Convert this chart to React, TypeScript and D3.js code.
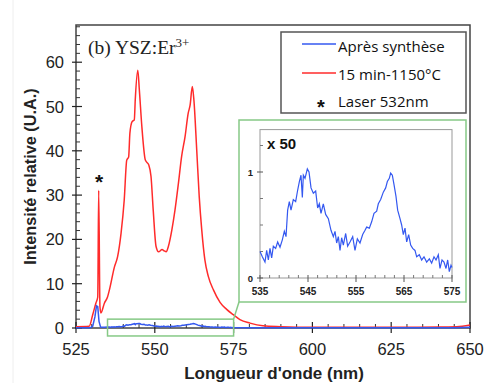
import React from "react";
import * as d3 from "d3";

// ---------- data ----------
const redWl = [525, 529.2, 530.3, 531.3, 531.9, 532.2, 532.6, 532.9, 534.0, 535.0, 535.6, 537.2, 538.2, 539.3, 540.3, 541.1, 541.7, 542.1, 542.8, 543.5, 543.8, 544.6, 545.1, 545.9, 547.0, 548.1, 548.8, 549.5, 550.4, 551.2, 552.3, 553.0, 553.6, 554.3, 555.4, 556.4, 557.5, 558.5, 559.6, 560.6, 561.2, 561.9, 562.4, 563.3, 564.1, 564.9, 565.9, 567.0, 568.6, 570.7, 572.8, 574.9, 577, 580.2, 584.3, 590, 600, 620, 640, 645.8, 650];
const redVal = [0.3, 0.4, 3.0, 5.6, 7, 31.1, 4.8, 3.4, 5.6, 7, 8.6, 13.8, 16.1, 21.4, 28.9, 37.9, 38.6, 44, 46.6, 47, 51.5, 58.2, 53.7, 45.4, 37.9, 36.8, 34.2, 26.6, 18.4, 17.2, 17.7, 17.4, 17.2, 18.4, 22.1, 26.6, 32.7, 38.7, 43.2, 48.5, 50.3, 54.5, 51.5, 40.2, 29.6, 22.1, 15.3, 11.6, 8.6, 5.8, 4.2, 3.0, 1.9, 1.1, 0.5, 0.3, 0.15, 0.15, 0.2, 0.3, 0.7];

const blueLowWl = [525, 529.5, 530.3, 531, 531.5, 531.9, 532.3, 532.8, 534];
const blueLowVal = [0.05, 0.05, 0.4, 2.5, 5.0, 4.8, 1.5, 0.2, 0.15];
const insetWl = [535.0, 535.49, 536.04, 536.39, 536.74, 537.08, 537.43, 537.78, 538.26, 538.68, 539.17, 539.65, 540.07, 540.42, 540.76, 541.11, 541.46, 541.94, 542.43, 542.85, 543.2, 543.54, 543.82, 544.03, 544.38, 544.86, 545.21, 545.63, 546.11, 546.6, 547.01, 547.36, 547.71, 548.19, 548.68, 549.24, 549.79, 550.28, 550.63, 550.97, 551.32, 551.67, 552.01, 552.36, 552.85, 553.26, 553.75, 554.31, 554.79, 555.28, 555.83, 556.39, 556.88, 557.22, 557.78, 558.26, 558.75, 559.31, 559.65, 560.14, 560.69, 561.18, 561.53, 561.94, 562.22, 562.57, 562.92, 563.33, 563.68, 564.17, 564.51, 564.86, 565.21, 565.56, 565.97, 566.39, 566.81, 567.29, 567.64, 568.19, 568.68, 569.17, 569.72, 570.28, 570.76, 571.25, 571.67, 572.15, 572.5, 572.92, 573.33, 573.75, 574.1, 574.44, 574.79, 575.0];
const insetVal = [0.25, 0.2, 0.15, 0.26, 0.17, 0.28, 0.19, 0.30, 0.28, 0.34, 0.29, 0.36, 0.44, 0.39, 0.64, 0.72, 0.64, 0.74, 0.72, 0.83, 0.91, 0.97, 0.76, 0.97, 0.94, 1.03, 1.00, 0.85, 0.80, 0.82, 0.66, 0.70, 0.61, 0.70, 0.60, 0.56, 0.45, 0.39, 0.44, 0.33, 0.39, 0.26, 0.38, 0.31, 0.42, 0.30, 0.34, 0.39, 0.26, 0.37, 0.33, 0.41, 0.45, 0.48, 0.47, 0.53, 0.61, 0.63, 0.70, 0.74, 0.81, 0.85, 0.91, 0.94, 0.99, 0.97, 0.88, 0.77, 0.64, 0.56, 0.50, 0.41, 0.47, 0.34, 0.41, 0.31, 0.28, 0.26, 0.20, 0.22, 0.17, 0.20, 0.15, 0.18, 0.14, 0.20, 0.17, 0.22, 0.09, 0.17, 0.15, 0.09, 0.17, 0.06, 0.12, 0.1];
const blueHighWl = [580, 600, 625, 645, 650];
const blueHighVal = [0.08, 0.05, 0.05, 0.08, 0.15];

const xTicks = [525, 550, 575, 600, 625, 650];
const yTicks = [0, 10, 20, 30, 40, 50, 60];
const insetXTicks = [535, 545, 555, 565, 575];
const insetYTicks = [0, 1];
const zoomBox = { x0: 535, x1: 575, y0: -1.8, y1: 2.0 };
const legendLabels = ["Après synthèse", "15 min-1150°C", "Laser 532nm"];
const laserWl = 532.2;
const laserVal = 31.1;

const RED = "#ff2b2b";
const BLUE = "#3458f0";
const GREEN = "#86c986";

export default function App() {
  const x = d3.scaleLinear().domain([525, 650]).range([76, 470]);
  const y = d3.scaleLinear().domain([0, 68.4]).range([328, 25]);
  const ix = d3.scaleLinear().domain([535, 575]).range([260, 452]);
  const iy = d3.scaleLinear().domain([0, 1.4]).range([278, 129.6]);

  const red = redWl.map((w, i) => [w, redVal[i]] as [number, number]);
  const blue = [
    ...blueLowWl.map((w, i) => [w, blueLowVal[i]]),
    ...insetWl.map((w, i) => [w, insetVal[i]]),
    ...blueHighWl.map((w, i) => [w, blueHighVal[i]]),
  ] as [number, number][];
  const inset = insetWl.map((w, i) => [w, insetVal[i]] as [number, number]);

  const redLine = d3.line<[number, number]>().x(d => x(d[0])).y(d => y(d[1])).curve(d3.curveMonotoneX);
  const blueLine = d3.line<[number, number]>().x(d => x(d[0])).y(d => y(d[1]));
  const insetLine = d3.line<[number, number]>().x(d => ix(d[0])).y(d => iy(d[1]));

  const xMinor = d3.range(525, 651, 5).filter(v => v % 25 !== 0);
  const yMinor = d3.range(0, 68.1, 2).filter(v => v % 10 !== 0);
  const ixMinor = d3.range(535, 575.1, 2).filter(v => (v - 535) % 10 !== 0);
  const iyMinor = [0.25, 0.5, 0.75, 1.25];

  const font = "Liberation Sans, Arial, sans-serif";
  const legendFont = "Open Sans, Noto Sans, sans-serif";

  return (
    <svg width={488} height={383} style={{ position: "absolute", left: 0, top: 0, background: "#fff" }}>
      <line x1={13} x2={13} y1={0} y2={383} stroke="#eeeeee" strokeWidth={1} />
      {/* frame */}
      <rect x={x(525)} y={y(68.4)} width={x(650) - x(525)} height={y(0) - y(68.4)} fill="none" stroke="#444" strokeWidth={1.5} />

      {/* y ticks */}
      {yMinor.map(v => (
        <line key={"ym" + v} x1={x(525)} x2={x(525) + 4} y1={y(v)} y2={y(v)} stroke="#333" strokeWidth={1} />
      ))}
      {yTicks.map(v => (
        <g key={"y" + v}>
          <line x1={x(525) - 4} x2={x(525) + 6} y1={y(v)} y2={y(v)} stroke="#222" strokeWidth={1.2} />
          <text x={64} y={y(v) + 6} textAnchor="end" fontFamily={font} fontSize={16.5} fill="#222">{v}</text>
        </g>
      ))}
      {/* x ticks */}
      {xMinor.map(v => (
        <line key={"xm" + v} x1={x(v)} x2={x(v)} y1={y(0)} y2={y(0) - 4} stroke="#333" strokeWidth={1} />
      ))}
      {xTicks.map(v => (
        <g key={"x" + v}>
          <line x1={x(v)} x2={x(v)} y1={y(0) + 5} y2={y(0) - 6} stroke="#222" strokeWidth={1.2} />
          <text x={x(v)} y={355} textAnchor="middle" fontFamily={font} fontSize={16.5} fill="#222">{v}</text>
        </g>
      ))}

      {/* axis titles */}
      <text transform="translate(36,176.5) rotate(-90)" textAnchor="middle" fontFamily={font} fontWeight="bold" fontSize={16.3} fill="#222">Intensité relative (U.A.)</text>
      <text x={274} y={379} textAnchor="middle" fontFamily={font} fontWeight="bold" fontSize={17} fill="#222">Longueur d'onde (nm)</text>

      {/* title */}
      <text x={88} y={54} fontFamily="Liberation Serif, Times New Roman, serif" fontSize={19.5} fill="#222">
        (b) YSZ:Er<tspan fontSize={13} dy={-7}>3+</tspan>
      </text>

      {/* curves */}
      <path d={redLine(red) || ""} fill="none" stroke={RED} strokeWidth={1.5} />
      <path d={blueLine(blue) || ""} fill="none" stroke={BLUE} strokeWidth={1.5} />

      {/* laser star */}
      <text x={x(laserWl) + 0.5} y={y(laserVal) - 1} textAnchor="middle" fontFamily={font} fontWeight="bold" fontSize={21} fill="#111">*</text>

      {/* zoom rectangle and connector */}
      <rect x={x(zoomBox.x0)} y={y(zoomBox.y1)} width={x(zoomBox.x1) - x(zoomBox.x0)} height={y(zoomBox.y0) - y(zoomBox.y1)} fill="none" stroke={GREEN} strokeWidth={1.5} />
      <line x1={x(zoomBox.x1)} y1={y(zoomBox.y1)} x2={239} y2={302} stroke={GREEN} strokeWidth={1.5} />

      {/* inset box */}
      <rect x={239} y={120} width={227} height={182} fill="#fff" stroke={GREEN} strokeWidth={1.5} />
      <rect x={ix(535)} y={iy(1.4)} width={ix(575) - ix(535)} height={iy(0) - iy(1.4)} fill="none" stroke="#999" strokeWidth={1} />
      {iyMinor.map(v => (
        <line key={"iym" + v} x1={ix(535)} x2={ix(535) + 3} y1={iy(v)} y2={iy(v)} stroke="#777" strokeWidth={1} />
      ))}
      {insetYTicks.map(v => (
        <g key={"iy" + v}>
          <line x1={ix(535) - 3} x2={ix(535) + 3} y1={iy(v)} y2={iy(v)} stroke="#555" strokeWidth={1} />
          <text x={253} y={iy(v) + 3.5} textAnchor="end" fontFamily={font} fontWeight="bold" fontSize={9.5} fill="#222">{v}</text>
        </g>
      ))}
      {ixMinor.map(v => (
        <line key={"ixm" + v} x1={ix(v)} x2={ix(v)} y1={iy(0)} y2={iy(0) - 3} stroke="#777" strokeWidth={1} />
      ))}
      {insetXTicks.map(v => (
        <g key={"ix" + v}>
          <line x1={ix(v)} x2={ix(v)} y1={iy(0) + 4} y2={iy(0) - 3} stroke="#555" strokeWidth={1} />
          <text x={ix(v)} y={295} textAnchor="middle" fontFamily={font} fontWeight="bold" fontSize={10} fill="#222">{v}</text>
        </g>
      ))}
      <path d={insetLine(inset) || ""} fill="none" stroke={BLUE} strokeWidth={1.2} />
      <text x={267} y={149} fontFamily={font} fontWeight="bold" fontSize={15} fill="#111">x 50</text>

      {/* legend */}
      <rect x={281} y={32} width={185} height={81} fill="#fff" stroke="#555" strokeWidth={1.5} />
      <line x1={302} x2={336} y1={44} y2={44} stroke={BLUE} strokeWidth={1.5} />
      <text x={338} y={52} fontFamily={legendFont} fontSize={15} fill="#111">{legendLabels[0]}</text>
      <line x1={302} x2={336} y1={73} y2={73} stroke={RED} strokeWidth={1.5} />
      <text x={338} y={80} fontFamily={legendFont} fontSize={15} fill="#111">{legendLabels[1]}</text>
      <text x={321} y={114} textAnchor="middle" fontFamily={font} fontWeight="bold" fontSize={20} fill="#111">*</text>
      <text x={338} y={107} fontFamily={legendFont} fontSize={15} fill="#111">{legendLabels[2]}</text>
    </svg>
  );
}
